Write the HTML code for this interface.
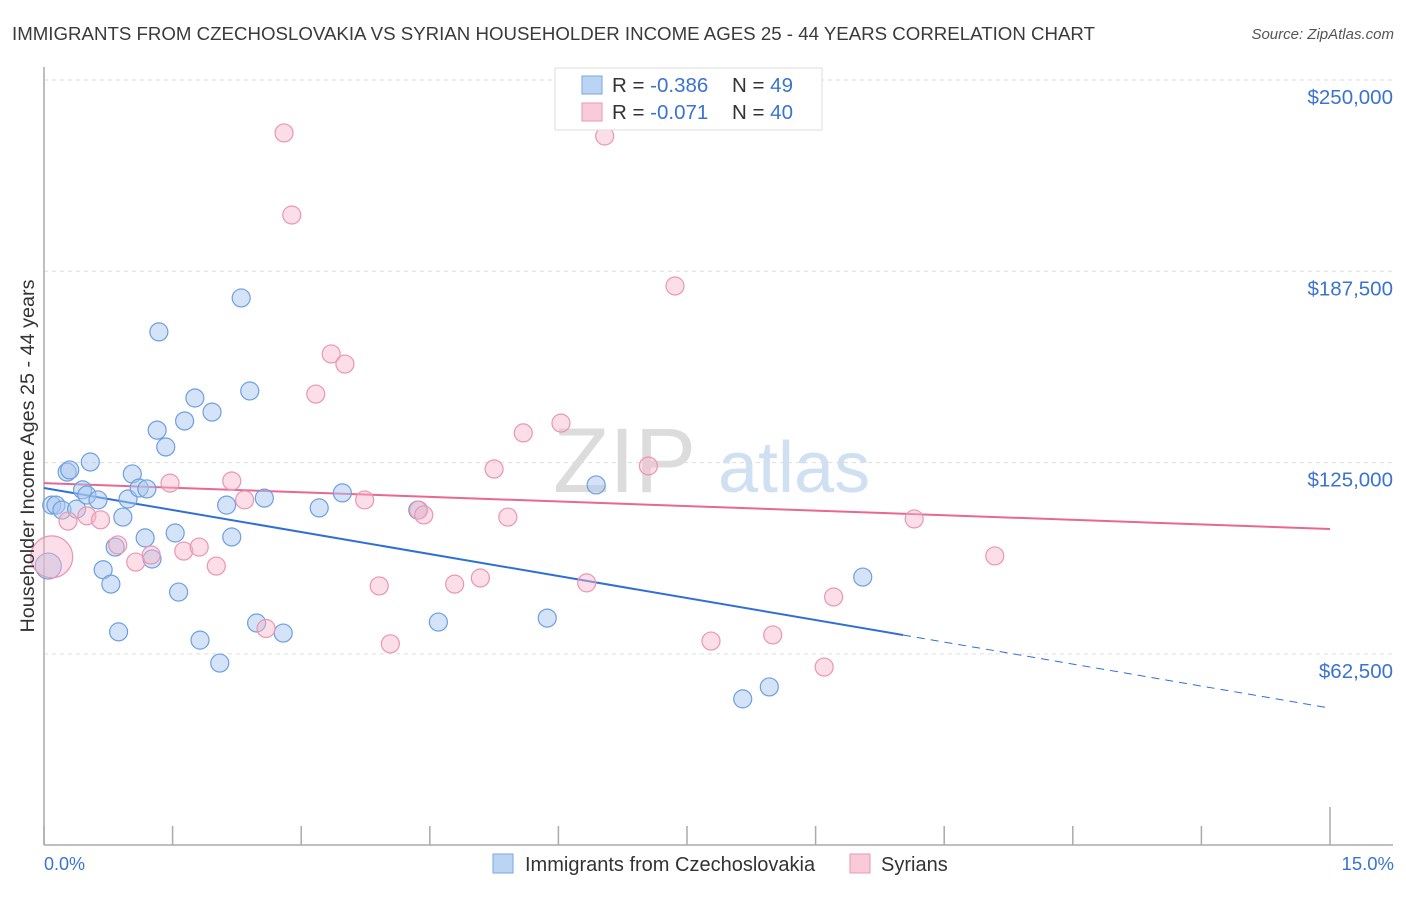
<!DOCTYPE html>
<html><head><meta charset="utf-8"><style>
body{margin:0;background:#fff;font-family:"Liberation Sans",sans-serif;}
svg text{font-family:"Liberation Sans",sans-serif;}
</style></head><body>
<svg id="chart" width="1406" height="892">
<text x="12" y="40" font-size="18" fill="#3a3a3a" textLength="1083" lengthAdjust="spacingAndGlyphs">IMMIGRANTS FROM CZECHOSLOVAKIA VS SYRIAN HOUSEHOLDER INCOME AGES 25 - 44 YEARS CORRELATION CHART</text>
<text x="1394" y="39" font-size="15" fill="#555" font-style="italic" text-anchor="end">Source: ZipAtlas.com</text>
<g><text x="553" y="492" font-size="92" fill="#dcdcdc" font-family="Liberation Serif">ZIP</text><text x="718" y="492" font-size="72" fill="#cfe0f3">atlas</text></g>
<g id="grid"></g><g id="axes"></g><g id="trend"></g><g id="points"></g>
<text transform="translate(34,456) rotate(-90)" font-size="19.8" fill="#333" text-anchor="middle">Householder Income Ages 25 - 44 years</text>
<text x="44" y="870" font-size="18" fill="#3b73d1">0.0%</text>
<text x="1394" y="870" font-size="18.5" fill="#3b73d1" text-anchor="end">15.0%</text>
<g>
<rect x="555" y="68" width="267" height="62" fill="#fff" stroke="#ddd"/>
<rect x="582" y="76" width="20" height="18" fill="#bcd4f4" stroke="#7aa6e2"/>
<text x="612" y="92" font-size="20.5" fill="#333">R = <tspan fill="#3b73d1">-0.386</tspan></text>
<text x="732" y="92" font-size="20.5" fill="#333">N = <tspan fill="#3b73d1">49</tspan></text>
<rect x="582" y="103" width="20" height="18" fill="#f9cbd9" stroke="#ea9ab3"/>
<text x="612" y="119" font-size="20.5" fill="#333">R = <tspan fill="#3b73d1">-0.071</tspan></text>
<text x="732" y="119" font-size="20.5" fill="#333">N = <tspan fill="#3b73d1">40</tspan></text>
</g>
<g>
<rect x="493" y="854" width="20" height="19" fill="#bcd4f4" stroke="#7aa6e2"/>
<text x="525" y="871" font-size="20" fill="#333">Immigrants from Czechoslovakia</text>
<rect x="850" y="854" width="20" height="19" fill="#f9cbd9" stroke="#ea9ab3"/>
<text x="881" y="871" font-size="20" fill="#333">Syrians</text>
</g>
</svg>
<script>
const yTicks=[250000,187500,125000,62500];
const yTickLabels=["$250,000","$187,500","$125,000","$62,500"];
const xTicks=[0,1.5,3,4.5,6,7.5,9,10.5,12,13.5,15];
const blueX=[0.05,0.09,0.14,0.21,0.27,0.30,0.38,0.45,0.50,0.54,0.63,0.69,0.78,0.83,0.87,0.92,0.98,1.03,1.11,1.18,1.20,1.26,1.32,1.34,1.42,1.53,1.57,1.64,1.76,1.82,1.96,2.05,2.13,2.19,2.30,2.40,2.48,2.57,2.79,3.21,3.48,4.36,4.60,5.87,6.44,8.15,8.46,9.55];
const blueY=[91.2,111.1,111.1,109.5,121.9,122.6,109.8,116.1,114.4,125.2,112.8,90.0,85.3,97.4,69.7,107.2,113.1,121.3,116.7,100.4,116.4,93.5,135.6,167.7,130.1,102.0,82.7,138.6,146.1,67.0,141.5,59.5,111.1,100.7,178.8,148.4,72.6,113.4,69.3,110.2,115.1,109.5,72.9,74.2,117.7,47.8,51.7,87.6];
const pinkX=[0.09,0.28,0.50,0.66,0.86,1.07,1.25,1.47,1.63,1.81,2.01,2.19,2.34,2.59,2.80,2.89,3.17,3.35,3.51,3.74,3.91,4.04,4.37,4.43,4.79,5.09,5.25,5.41,5.59,6.03,6.33,6.54,7.05,7.36,7.78,8.50,9.10,9.21,10.15,11.09];
const pinkY=[94.2,105.9,107.6,106.3,98.1,92.5,94.8,118.3,96.1,97.4,91.2,119.0,112.8,70.8,232.7,205.9,147.4,160.5,157.2,112.8,84.7,65.8,109.5,107.9,85.3,87.3,122.9,107.2,134.7,137.9,85.7,231.7,123.9,182.7,66.7,68.7,58.2,81.1,106.6,94.5];
const blueTrend=[116.7,44.8];const blueSolidEnd=10.02;
const pinkTrend=[118.3,103.3];
const NS="http://www.w3.org/2000/svg";
const sx=p=>44+p/15*1286;
const sy=v=>80+(250-v)/62.5*191.3;
function mk(tag,attrs,parent){const e=document.createElementNS(NS,tag);for(const k in attrs)e.setAttribute(k,attrs[k]);document.getElementById(parent).appendChild(e);return e;}
yTicks.forEach((t,i)=>{const y=sy(t/1000);
const g=mk('line',{x1:44,x2:1393,y1:y,y2:y,stroke:'#ddd','stroke-dasharray':'4,4'},'grid');


const tx=mk('text',{x:1393,y:y+24,'font-size':20.5,fill:'#3b73d1','text-anchor':'end'},'grid');tx.textContent=yTickLabels[i];

});
let a=mk('line',{x1:44,x2:44,y1:67,y2:845,stroke:'#aaa','stroke-width':1.5},'axes');


a=mk('line',{x1:44,x2:1393,y1:845,y2:845,stroke:'#aaa','stroke-width':1.5},'axes');


xTicks.forEach((t,i)=>{const x=sx(t);const tk=mk('line',{x1:x,x2:x,y1:(i==xTicks.length-1?807:826),y2:845,stroke:'#aaa','stroke-width':1.5},'axes');

});
const byAt=p=>blueTrend[0]+(blueTrend[1]-blueTrend[0])*p/15;
let l=mk('line',{x1:sx(0),y1:sy(blueTrend[0]),x2:sx(blueSolidEnd),y2:sy(byAt(blueSolidEnd)),stroke:'#2f6fd6','stroke-width':2},'trend');


l=mk('line',{x1:sx(blueSolidEnd),y1:sy(byAt(blueSolidEnd)),x2:sx(15),y2:sy(blueTrend[1]),stroke:'#2f6fd6','stroke-width':1,'stroke-dasharray':'8,6'},'trend');


l=mk('line',{x1:sx(0),y1:sy(pinkTrend[0]),x2:sx(15),y2:sy(pinkTrend[1]),stroke:'#e8688f','stroke-width':2},'trend');


blueX.forEach((x,i)=>{const c=mk('circle',{cx:sx(x),cy:sy(blueY[i]),r:i==0?13:9,fill:'rgba(170,200,240,0.5)',stroke:'#6d9fe0','stroke-width':1.2},'points');

});
pinkX.forEach((x,i)=>{const c=mk('circle',{cx:sx(x),cy:sy(pinkY[i]),r:i==0?21:9,fill:'rgba(246,182,203,0.45)',stroke:'#eb96b0','stroke-width':1.2},'points');

});
</script>
</body></html>
